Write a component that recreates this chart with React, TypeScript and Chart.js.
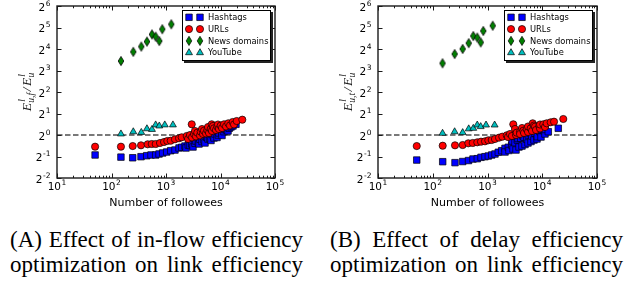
import React, { useEffect, useRef } from 'react';
import { Chart, registerables } from 'chart.js';

Chart.register(...registerables);

type Pt = [number, number];

const seriesNames = ['Hashtags', 'URLs', 'News domains', 'YouTube'];
const xTickExponents = [1, 2, 3, 4, 5];
const yTickExponents = [-2, -1, 0, 1, 2, 3, 4, 5, 6];
const xAxisTitle = 'Number of followees';
const referenceRatio = 1;
const captionA = ['(A) Effect of in-flow efficiency', 'optimization on link efficiency'];
const captionB = ['(B) Effect of delay efficiency', 'optimization on link efficiency'];

// ---------- Panel A: in-flow efficiency ----------
const hashtagsA: Pt[] = [
  [50, 0.525], [149, 0.49], [245, 0.48], [348, 0.497], [443, 0.513], [531, 0.525],
  [647, 0.525], [745, 0.542], [869, 0.56], [1030, 0.578], [1220, 0.603], [1462, 0.616],
  [1733, 0.658], [1941, 0.673], [2233, 0.7], [2328, 0.658], [2565, 0.724], [2754, 0.713],
  [2965, 0.748], [3130, 0.679], [3404, 0.765], [3550, 0.824], [3917, 0.78], [4033, 0.748],
  [4207, 0.871], [4578, 0.811], [4977, 0.851], [5196, 0.773], [5585, 0.928], [5899, 0.879],
  [6412, 0.888], [6696, 0.838], [7379, 0.968], [7600, 0.908], [7925, 1.033], [8630, 0.923],
  [9120, 1.0], [9380, 1.067], [10520, 1.077], [10660, 0.984], [11590, 1.112], [12100, 1.194],
  [13000, 1.175], [13740, 1.138], [14500, 1.241], [15590, 1.294], [16950, 1.337], [19230, 1.412],
];
const urlsA: Pt[] = [
  [50, 0.686], [149, 0.686], [245, 0.7], [348, 0.717], [461, 0.741], [547, 0.748],
  [647, 0.748], [776, 0.773], [919, 0.798], [1056, 0.824], [1220, 0.832], [1462, 0.871],
  [1733, 0.899], [1941, 0.929], [2399, 0.968], [2535, 0.879], [2754, 1.0], [2965, 1.412],
  [3000, 0.923], [3266, 1.033], [3404, 1.138], [3550, 0.953], [3752, 1.077], [4207, 0.984],
  [4335, 1.112], [4578, 1.213], [4775, 1.033], [4977, 1.149], [5420, 1.049], [5728, 1.175],
  [5899, 1.294], [6150, 1.067], [6607, 1.213], [6900, 1.412], [6980, 1.138], [7280, 1.337],
  [7600, 1.241], [8260, 1.175], [8735, 1.307], [8990, 1.403], [9380, 1.213], [10090, 1.35],
  [10660, 1.253], [11590, 1.412], [12620, 1.315], [13900, 1.458], [14930, 1.358],
  [16750, 1.521], [17700, 1.403], [19820, 1.57], [25120, 1.638],
];
const newsA: Pt[] = [
  [149, 10.85], [251, 14.6], [352, 17.3], [447, 20.3], [553, 25.6], [646, 23.8],
  [753, 20.7], [854, 30.3], [1250, 35.5],
];
const youtubeA: Pt[] = [
  [149, 1.035], [251, 1.11], [352, 1.087], [447, 1.223], [553, 1.197], [646, 1.385],
  [753, 1.338], [950, 1.385], [1340, 1.385],
];

// ---------- Panel B: delay efficiency ----------
const hashtagsB: Pt[] = [
  [51, 0.446], [152, 0.423], [255, 0.41], [352, 0.425], [450, 0.439], [543, 0.461],
  [651, 0.466], [761, 0.487], [900, 0.497], [1035, 0.508], [1194, 0.525], [1371, 0.542],
  [1575, 0.573], [1816, 0.603], [2089, 0.651], [2089, 0.578], [2399, 0.673], [2470, 0.607],
  [2767, 0.724], [2800, 0.824], [2922, 0.637], [3178, 0.78], [3318, 0.616], [3500, 0.851],
  [3606, 0.893], [3760, 0.679], [4037, 0.899], [4266, 0.7], [4446, 0.968], [4645, 0.929],
  [4841, 0.736], [5200, 0.871], [5493, 0.773], [5560, 1.0], [5970, 1.067], [6230, 0.811],
  [6412, 0.968], [7065, 0.851], [7380, 1.056], [7380, 1.138], [8020, 0.879], [8127, 0.947],
  [9100, 1.112], [9100, 1.175], [9490, 0.937], [10770, 1.149], [11220, 1.033],
  [11220, 1.194], [12890, 1.112], [19630, 1.241],
];
const urlsB: Pt[] = [
  [51, 0.7], [152, 0.708], [255, 0.717], [352, 0.724], [446, 0.765], [537, 0.773],
  [651, 0.79], [761, 0.806], [900, 0.816], [1035, 0.843], [1194, 0.851], [1371, 0.879],
  [1622, 0.917], [1863, 0.947], [2243, 0.99], [2368, 0.937], [2576, 1.033], [2800, 0.968],
  [2958, 1.412], [3178, 1.213], [3318, 1.0], [3412, 1.077], [3924, 1.112], [3924, 1.033],
  [4266, 1.253], [4510, 1.149], [4645, 1.067], [5200, 1.202], [5493, 1.102], [5493, 1.315],
  [6150, 1.241], [6500, 1.138], [6695, 1.458], [7065, 1.358], [7380, 1.307], [7690, 1.175],
  [8830, 1.337], [9100, 1.233], [9100, 1.403], [10450, 1.412], [11220, 1.294],
  [12050, 1.458], [14260, 1.506], [16410, 1.536], [24220, 1.675],
];
const newsB: Pt[] = [
  [151, 10.1], [251, 13.6], [352, 16], [454, 19.3], [550, 24.3], [650, 23.1],
  [751, 19.8], [838, 28.6], [1245, 33.9],
];
const youtubeB: Pt[] = [
  [151, 1.057], [251, 1.11], [352, 1.08], [454, 1.22], [550, 1.24], [650, 1.38],
  [751, 1.31], [940, 1.38], [1350, 1.38],
];

const COLORS = ['#0000ff', '#ff0000', '#008000', '#00bfbf'];
const SANS = '"DejaVu Sans", sans-serif';
const SERIF = '"Liberation Serif", "Times New Roman", Times, serif';

function diamondPath(ctx: CanvasRenderingContext2D, x: number, y: number) {
  ctx.moveTo(x, y - 4.6);
  ctx.lineTo(x + 2.8, y);
  ctx.lineTo(x, y + 4.6);
  ctx.lineTo(x - 2.8, y);
  ctx.closePath();
}

function makeDiamondImage(): HTMLCanvasElement {
  const c = document.createElement('canvas');
  c.width = 8;
  c.height = 12;
  const ctx = c.getContext('2d')!;
  ctx.beginPath();
  diamondPath(ctx, 4, 6);
  ctx.fillStyle = COLORS[2];
  ctx.fill();
  ctx.lineWidth = 0.8;
  ctx.strokeStyle = '#000';
  ctx.stroke();
  return c;
}

function drawMarker(ctx: CanvasRenderingContext2D, i: number, x: number, y: number) {
  ctx.save();
  ctx.beginPath();
  if (i === 0) {
    const s = 3.25;
    ctx.rect(x - s, y - s, 2 * s, 2 * s);
  } else if (i === 1) {
    ctx.arc(x, y, 3.6, 0, Math.PI * 2);
  } else if (i === 2) {
    diamondPath(ctx, x, y);
  } else {
    const r = 4;
    ctx.moveTo(x, y - r);
    ctx.lineTo(x + r * 0.866, y + r / 2);
    ctx.lineTo(x - r * 0.866, y + r / 2);
    ctx.closePath();
  }
  ctx.fillStyle = COLORS[i];
  ctx.fill();
  ctx.lineWidth = 0.7;
  ctx.strokeStyle = '#000';
  ctx.stroke();
  ctx.restore();
}

function drawPowerLabel(
  ctx: CanvasRenderingContext2D,
  base: string,
  sup: string,
  x: number,
  baseline: number,
  align: 'center' | 'right',
) {
  ctx.font = `10.5px ${SANS}`;
  const wb = ctx.measureText(base).width;
  ctx.font = `7.5px ${SANS}`;
  const ws = ctx.measureText(sup).width;
  const total = wb + 0.5 + ws;
  const start = align === 'center' ? x - total / 2 : x - total;
  ctx.textAlign = 'left';
  ctx.textBaseline = 'alphabetic';
  ctx.fillStyle = '#000';
  ctx.font = `10.5px ${SANS}`;
  ctx.fillText(base, start, baseline);
  ctx.font = `7.5px ${SANS}`;
  ctx.fillText(sup, start + wb + 0.5, baseline - 4.8);
}

function drawYTitle(ctx: CanvasRenderingContext2D, baseX: number, cy: number, sub: string) {
  const big = `italic 13.5px ${SERIF}`;
  const small = `italic 9.5px ${SERIF}`;
  ctx.save();
  ctx.fillStyle = '#1a1a1a';
  ctx.textAlign = 'left';
  ctx.textBaseline = 'alphabetic';
  ctx.font = big;
  const wE = ctx.measureText('E').width;
  const wS = ctx.measureText('/').width;
  ctx.font = small;
  const wl = ctx.measureText('l').width;
  const wSub1 = ctx.measureText(sub).width;
  const wSub2 = ctx.measureText('u').width;
  const seg1 = wE + Math.max(wl + 1.2, wSub1 + 0.3) + 1.5;
  const seg2 = wS + 1.5;
  const seg3 = wE + Math.max(wl + 1.2, wSub2 + 0.3);
  const total = seg1 + seg2 + seg3;
  ctx.translate(baseX, cy);
  ctx.rotate(-Math.PI / 2);
  let x = -total / 2;
  const drawE = (subText: string) => {
    ctx.font = big;
    ctx.fillText('E', x, 0);
    ctx.font = small;
    ctx.fillText('l', x + wE + 1.2, -6.2);
    ctx.fillText(subText, x + wE + 0.3, 3.2);
  };
  drawE(sub);
  x += seg1;
  ctx.font = big;
  ctx.fillText('/', x, 0);
  x += seg2;
  drawE('u');
  ctx.restore();
}

function makeDecor(sub: string) {
  return {
    id: 'decor',
    beforeDatasetsDraw(chart: any) {
      const { ctx, chartArea: a, scales } = chart;
      const y = scales.y.getPixelForValue(referenceRatio);
      ctx.save();
      ctx.strokeStyle = '#4d4d4d';
      ctx.lineWidth = 1.4;
      ctx.setLineDash([5.5, 2.5]);
      ctx.beginPath();
      ctx.moveTo(a.left, y);
      ctx.lineTo(a.right, y);
      ctx.stroke();
      ctx.restore();
    },
    afterDraw(chart: any) {
      const { ctx, chartArea: a, scales } = chart;
      const xs = scales.x;
      const ys = scales.y;
      ctx.save();
      // ticks (inward, all four sides)
      ctx.strokeStyle = '#1a1a1a';
      ctx.lineWidth = 1;
      ctx.beginPath();
      xTickExponents.forEach((e, k) => {
        const p = Math.round(xs.getPixelForValue(Math.pow(10, e))) + 0.5;
        ctx.moveTo(p, a.bottom);
        ctx.lineTo(p, a.bottom - 4.5);
        ctx.moveTo(p, a.top);
        ctx.lineTo(p, a.top + 4.5);
        if (k < xTickExponents.length - 1) {
          for (let m = 2; m <= 9; m++) {
            const q = Math.round(xs.getPixelForValue(m * Math.pow(10, e))) + 0.5;
            ctx.moveTo(q, a.bottom);
            ctx.lineTo(q, a.bottom - 2.3);
            ctx.moveTo(q, a.top);
            ctx.lineTo(q, a.top + 2.3);
          }
        }
      });
      yTickExponents.forEach((e) => {
        const p = Math.round(ys.getPixelForValue(Math.pow(2, e))) + 0.5;
        ctx.moveTo(a.left, p);
        ctx.lineTo(a.left + 4.5, p);
        ctx.moveTo(a.right, p);
        ctx.lineTo(a.right - 4.5, p);
      });
      ctx.stroke();
      // frame
      ctx.lineWidth = 1.4;
      ctx.strokeStyle = '#1a1a1a';
      ctx.strokeRect(a.left, a.top, a.right - a.left, a.bottom - a.top);
      // tick labels
      xTickExponents.forEach((e) => {
        drawPowerLabel(ctx, '10', String(e), xs.getPixelForValue(Math.pow(10, e)), a.bottom + 11.5, 'center');
      });
      yTickExponents.forEach((e) => {
        drawPowerLabel(ctx, '2', String(e), a.left - 6.5, ys.getPixelForValue(Math.pow(2, e)) + 4.5, 'right');
      });
      // x title
      ctx.font = `11px ${SANS}`;
      ctx.textAlign = 'center';
      ctx.textBaseline = 'alphabetic';
      ctx.fillStyle = '#000';
      ctx.fillText(xAxisTitle, (a.left + a.right) / 2, a.bottom + 28);
      // y title
      drawYTitle(ctx, a.left - 26, (a.top + a.bottom) / 2, sub);
      // legend
      const lw = 89;
      const lh = 51;
      const lx = a.right - 4 - lw;
      const ly = a.top + 4;
      ctx.fillStyle = '#222';
      ctx.fillRect(lx + 2, ly + 2, lw, lh);
      ctx.fillStyle = '#fff';
      ctx.fillRect(lx, ly, lw, lh);
      ctx.strokeStyle = '#000';
      ctx.lineWidth = 1;
      ctx.strokeRect(lx + 0.5, ly + 0.5, lw - 1, lh - 1);
      ctx.font = `8.3px ${SANS}`;
      ctx.textAlign = 'left';
      ctx.textBaseline = 'middle';
      seriesNames.forEach((name, i) => {
        const ry = ly + 7.3 + i * 11.8;
        drawMarker(ctx, i, lx + 7, ry);
        drawMarker(ctx, i, lx + 18, ry);
        ctx.fillStyle = '#000';
        ctx.fillText(name, lx + 26, ry + 0.5);
      });
      ctx.restore();
    },
  };
}

function toXY(pts: Pt[]) {
  return pts.map(([x, y]) => ({ x, y }));
}

function buildDatasets(h: Pt[], u: Pt[], n: Pt[], y: Pt[], diamond: HTMLCanvasElement) {
  const common = { showLine: false, pointBorderColor: '#000', borderColor: '#000', pointBorderWidth: 0.7, borderWidth: 0.7 };
  return [
    { ...common, label: seriesNames[0], data: toXY(h), pointStyle: 'rect', pointRadius: 4.6, backgroundColor: COLORS[0], pointBackgroundColor: COLORS[0], order: 3 },
    { ...common, label: seriesNames[1], data: toXY(u), pointStyle: 'circle', pointRadius: 3.6, backgroundColor: COLORS[1], pointBackgroundColor: COLORS[1], order: 2 },
    { ...common, label: seriesNames[2], data: toXY(n), pointStyle: diamond, pointRadius: 4, backgroundColor: COLORS[2], pointBackgroundColor: COLORS[2], order: 1 },
    { ...common, label: seriesNames[3], data: toXY(y), pointStyle: 'triangle', pointRadius: 4, backgroundColor: COLORS[3], pointBackgroundColor: COLORS[3], order: 0 },
  ];
}

function Panel(props: { left: number; width: number; rightPad: number; sub: string; sets: Pt[][] }) {
  const ref = useRef<HTMLCanvasElement | null>(null);
  useEffect(() => {
    const canvas = ref.current!;
    const diamond = makeDiamondImage();
    const [h, u, n, y] = props.sets;
    const chart = new Chart(canvas, {
      type: 'scatter',
      data: { datasets: buildDatasets(h, u, n, y, diamond) as any },
      options: {
        animation: false,
        responsive: false,
        events: [],
        layout: { padding: { left: 57, right: props.rightPad, top: 6, bottom: 37 } },
        scales: {
          x: { type: 'logarithmic', min: 10, max: 100000, display: false },
          y: { type: 'logarithmic', min: 0.25, max: 64, display: false },
        },
        plugins: { legend: { display: false }, tooltip: { enabled: false } },
      },
      plugins: [makeDecor(props.sub)],
    } as any);
    return () => chart.destroy();
  }, []);
  return (
    <canvas
      ref={ref}
      width={props.width}
      height={215}
      style={{ position: 'absolute', left: props.left, top: 0, width: props.width, height: 215 }}
    />
  );
}

function Caption(props: { left: number; lines: string[] }) {
  return (
    <div
      style={{
        position: 'absolute',
        left: props.left,
        top: 227,
        width: 293,
        fontFamily: SERIF,
        fontSize: 23,
        lineHeight: '25px',
        color: '#000',
      }}
    >
      {props.lines.map((l, i) => (
        <div key={i} style={{ textAlign: 'justify', textAlignLast: 'justify' as any, whiteSpace: 'nowrap' }}>
          {l}
        </div>
      ))}
    </div>
  );
}

export default function App() {
  return (
    <div style={{ position: 'fixed', left: 0, top: 0, width: 626, height: 283, background: '#fff', overflow: 'hidden' }}>
      <Panel left={0} width={313} rightPad={38} sub="u,f" sets={[hashtagsA, urlsA, newsA, youtubeA]} />
      <Panel left={321} width={305} rightPad={29} sub="u,t" sets={[hashtagsB, urlsB, newsB, youtubeB]} />
      <Caption left={10} lines={captionA} />
      <Caption left={330} lines={captionB} />
    </div>
  );
}
